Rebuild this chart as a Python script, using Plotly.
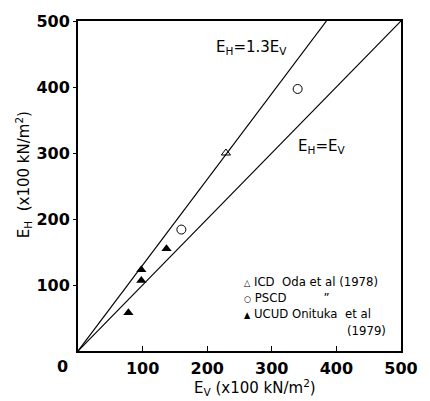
import plotly.graph_objects as go

# Data (x100 kN/m^2)
icd_ev = [229]
icd_eh = [300]
pscd_ev = [160, 340]
pscd_eh = [184, 397]
ucud_ev = [78, 98, 98, 137]
ucud_eh = [58, 107, 123, 155]
ratios = [1.0, 1.3]

x_ticks = [0, 100, 200, 300, 400, 500]
x_labels = ["", "100", "200", "300", "400", "500"]
y_ticks = [100, 200, 300, 400, 500]

FONT = "DejaVu Sans"
fig = go.Figure()

for r in ratios:
    xs = [0, min(500, 500 / r)]
    fig.add_trace(go.Scatter(x=xs, y=[v * r for v in xs], mode="lines",
                             line=dict(color="black", width=1.2), showlegend=False,
                             hoverinfo="skip"))

fig.add_trace(go.Scatter(x=icd_ev, y=icd_eh, mode="markers",
                         marker=dict(symbol="triangle-up-open", size=8, color="black",
                                     line=dict(width=1)), showlegend=False))
fig.add_trace(go.Scatter(x=pscd_ev, y=pscd_eh, mode="markers",
                         marker=dict(symbol="circle-open", size=9, color="black",
                                     line=dict(width=1)), showlegend=False))
fig.add_trace(go.Scatter(x=ucud_ev, y=ucud_eh, mode="markers",
                         marker=dict(symbol="triangle-up", size=9, color="black"),
                         showlegend=False))

fig.update_layout(
    width=430, height=401,
    margin=dict(l=78, r=17, t=15, b=50),
    paper_bgcolor="white", plot_bgcolor="white",
    font=dict(family=FONT, color="black", size=15),
    xaxis=dict(range=[0, 500], tickvals=x_ticks, ticktext=x_labels, ticks="inside",
               ticklen=5, tickwidth=1, tickcolor="black", showline=True, linewidth=2,
               linecolor="black", mirror=True, showgrid=False, zeroline=False,
               tickfont=dict(family=FONT, size=16, weight="bold"), ticklabelstandoff=2),
    yaxis=dict(range=[0, 500], tickvals=y_ticks, ticks="outside", ticklen=3,
               tickwidth=1, tickcolor="black", showline=True, linewidth=2,
               linecolor="black", mirror=True, showgrid=False, zeroline=False,
               tickfont=dict(family=FONT, size=16, weight="bold")),
)

ann = [
    dict(text="E<sub>V</sub> (x100 kN/m<sup>2</sup>)", x=262, y=388, size=15),
    dict(text="E<sub>H</sub>  (x100 kN/m<sup>2</sup>)", x=21, y=172, size=15, angle=-90),
    dict(text="E<sub>H</sub>=1.3E<sub>V</sub>", x=258, y=42, size=15),
    dict(text="E<sub>H</sub>=E<sub>V</sub>", x=331, y=143, size=15),
]
for a in ann:
    fig.add_annotation(text=a["text"], xref="paper", yref="paper",
                       x=(a["x"] - 78) / 335, y=(351 - a["y"]) / 336,
                       xanchor="center", yanchor="middle", showarrow=False,
                       textangle=a.get("angle", 0),
                       font=dict(family=FONT, size=a["size"], color="black"))
fig.add_annotation(text="0", xref="paper", yref="paper", x=(62 - 78) / 335,
                   y=(351 - 367) / 336, xanchor="center", yanchor="middle",
                   showarrow=False, font=dict(family=FONT, size=16, weight="bold"))

SYM = "<span style='font-size:9px'>{}</span>"
legend_lines = [
    (SYM.format("△") + " ICD  Oda et al (1978)", 248, 280, "left"),
    (SYM.format("○") + " PSCD          \u201d", 248, 297, "left"),
    (SYM.format("▲") + " UCUD Onituka  et al", 248, 313, "left"),
    ("(1979)", 400, 330, "right"),
]
for t, x, y, anc in legend_lines:
    fig.add_annotation(text=t, xref="paper", yref="paper",
                       x=(x - 78) / 335, y=(351 - y) / 336,
                       xanchor=anc, yanchor="middle", showarrow=False,
                       font=dict(family="DejaVu Sans Condensed", size=13, color="black"))

fig.write_html("out.html")
